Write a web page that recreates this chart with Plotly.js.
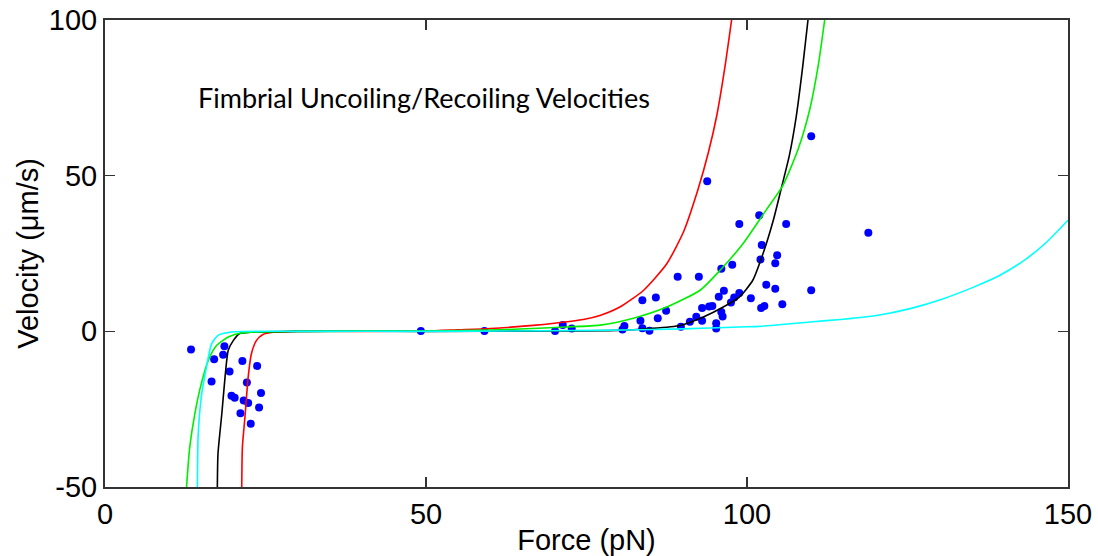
<!DOCTYPE html>
<html>
<head>
<meta charset="utf-8">
<script src="https://cdn.plot.ly/plotly-3.0.1.min.js"></script>
<style>html,body{margin:0;padding:0;background:#fff;}#chart{width:1098px;height:556px;}</style>
</head>
<body>
<div id="chart"></div>
<script>
// Measured data points (force in pN, velocity in um/s)
const dataForce = [13.4,17.0,18.6,18.4,21.4,23.7,19.4,16.6,22.1,24.3,19.7,20.2,21.6,22.3,24.0,21.1,22.7,
  49.2,59.1,70.1,71.3,72.7,80.9,80.6,
  93.8,101.9,98.8,106.1,118.9,102.3,104.7,102.1,104.4,96.0,97.7,89.2,92.5,103.0,104.4,110.0,96.4,95.6,98.8,98.0,97.5,100.6,85.8,83.7,105.5,102.7,102.2,87.4,93.0,94.1,94.6,96.0,96.2,86.1,83.4,92.1,91.1,93.0,89.7,95.2,95.2,83.7,84.8,110.0];
const dataVelocity = [-5.8,-9.0,-4.8,-7.5,-9.5,-11.1,-12.9,-16.1,-16.4,-19.8,-20.7,-21.3,-22.2,-23.0,-24.5,-26.3,-29.7,
  0.1,0.1,0.1,2.0,0.9,1.7,0.6,
  48.2,37.3,34.5,34.5,31.7,27.7,24.4,23.1,21.9,20.1,21.4,17.5,17.5,15.0,13.7,13.2,13.0,11.1,12.3,10.9,9.3,10.6,10.9,10.0,8.7,8.1,7.5,6.6,7.5,8.0,8.1,6.2,4.8,4.2,3.4,4.7,3.1,3.4,1.5,2.6,0.9,1.0,0.2,62.7];

// Model curves
const redForce = [21.3,21.4,21.8,22.3,22.8,23.6,24.6,26.2,30,40,50,55,60,66.7,70,74.5,77.1,80.2,83.9,87.5,90.1,92.4,94.0,95.3,96.6,97.6];
const redVelocity = [-50,-37.2,-27.5,-14.7,-7.2,-2.9,-1.0,-0.3,0,0,0.1,0.5,0.9,1.9,2.6,3.8,5.1,7.8,13.2,21.7,31.9,45.8,57.6,69.4,85.4,100];

const blackForce = [17.5,17.6,18.2,18.7,19.2,20.0,21.0,22.6,30,50,70,79.7,84.9,89.6,93.2,96.3,98.8,100.9,102.5,104.1,105.4,106.6,107.7,108.7,109.5];
const blackVelocity = [-50,-39.3,-26.4,-14.7,-6.1,-2.9,-0.7,-0.3,0,0,0.1,0.3,0.9,1.9,4.6,7.8,11.0,16.4,25.0,35.7,46.4,56.5,69.4,85.4,100];

const greenForce = [12.7,13.2,14.0,15.0,16.1,17.4,19.2,21.3,30,50,61.5,71.9,77.1,82.3,87.5,92.7,95.8,99.4,103.0,105.6,108.0,109.8,111.1,112.1];
const greenVelocity = [-50,-37.2,-26.4,-16.8,-9.3,-4.5,-1.8,-0.5,0,0.1,0.5,1.4,2.0,4.2,7.8,13.2,19.6,28.2,39.0,46.9,58.7,71.5,85.4,100];

const cyanForce = [14.4,14.5,15.0,15.8,16.6,17.6,19.7,30,50,77,90,98.9,102,109.8,115.0,120.2,125.4,130.6,135.3,139.4,143.5,146.7,150];
const cyanVelocity = [-50,-33.9,-21.1,-11.5,-4.0,-1.3,-0.2,0,0,0.3,0.8,1.4,1.6,3.0,3.9,5.1,7.3,10.5,14.2,18.0,23.3,28.7,35.7];

const xTicks = [0,50,100,150];
const yTicks = [-50,0,50,100];
const titleText = 'Fimbrial Uncoiling/Recoiling Velocities';

const lineW = 1.6;
const smooth = {width: lineW, shape: 'spline', smoothing: 0.6};
const traces = [
  {x: dataForce, y: dataVelocity, mode: 'markers', type: 'scatter', marker: {color: '#0000ff', size: 8}, cliponaxis: true},
  {x: redForce, y: redVelocity, mode: 'lines', type: 'scatter', line: Object.assign({color: '#ff0000'}, smooth)},
  {x: blackForce, y: blackVelocity, mode: 'lines', type: 'scatter', line: Object.assign({color: '#000000'}, smooth)},
  {x: greenForce, y: greenVelocity, mode: 'lines', type: 'scatter', line: Object.assign({color: '#00ee00'}, smooth)},
  {x: cyanForce, y: cyanVelocity, mode: 'lines', type: 'scatter', line: Object.assign({color: '#00ffff'}, smooth)}
];

const axisFont = {family: 'Liberation Sans, Arial, sans-serif', size: 29, color: '#000'};
const layout = {
  width: 1098, height: 556,
  margin: {l: 105, r: 30, t: 20, b: 69},
  paper_bgcolor: '#fff', plot_bgcolor: '#fff',
  showlegend: false,
  xaxis: {
    range: [0,150], tickvals: xTicks, ticktext: xTicks.map(String),
    ticks: 'inside', ticklen: 10, tickwidth: 1.2, tickcolor: '#333',
    showline: true, linecolor: '#333', linewidth: 2, mirror: 'ticks',
    showgrid: false, zeroline: false,
    tickfont: axisFont,
    title: {text: 'Force (pN)', font: axisFont, standoff: 1}
  },
  yaxis: {
    range: [-50,100], tickvals: yTicks, ticktext: yTicks.map(String),
    ticks: 'inside', ticklen: 10, tickwidth: 1.2, tickcolor: '#333',
    showline: true, linecolor: '#333', linewidth: 2, mirror: 'ticks',
    showgrid: false, zeroline: false,
    tickfont: axisFont,
    title: {text: 'Velocity (\u03bcm/s)', font: axisFont, standoff: 2}
  },
  annotations: [{
    text: titleText, xref: 'paper', yref: 'paper',
    x: (424-105)/963, y: (487-97)/467, xanchor: 'center', yanchor: 'middle',
    showarrow: false, font: {family: 'Lato, Open Sans, sans-serif', size: 27, color: '#000'}
  }]
};

Plotly.newPlot('chart', traces, layout, {staticPlot: true, displayModeBar: false});
</script>
</body>
</html>
